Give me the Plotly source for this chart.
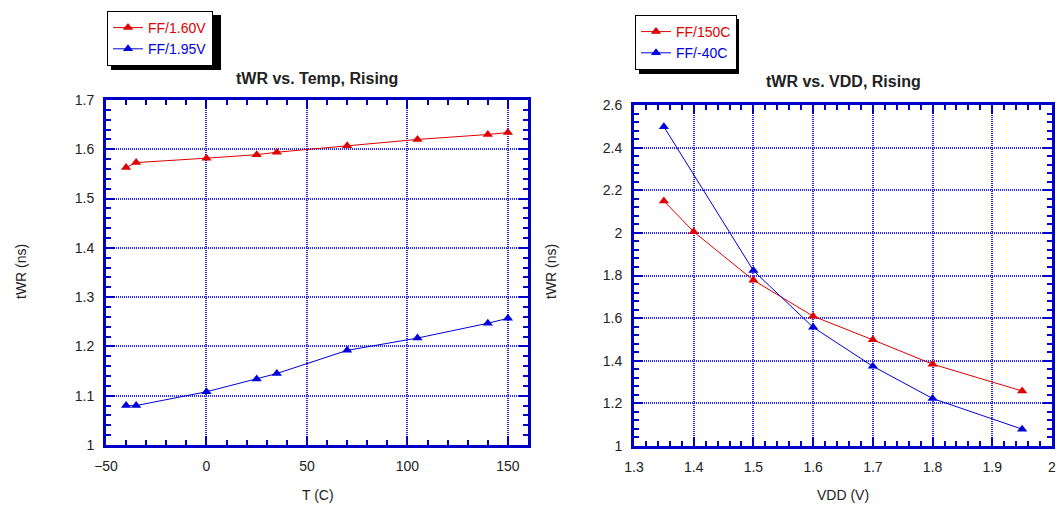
import plotly.graph_objects as go

# ---- data: left chart (tWR vs temperature) ----
temp_c = [-40, -35, 0, 25, 35, 70, 105, 140, 150]
twr_160v = [1.563, 1.573, 1.582, 1.589, 1.594, 1.607, 1.620, 1.630, 1.634]
twr_195v = [1.080, 1.080, 1.108, 1.134, 1.145, 1.192, 1.217, 1.247, 1.257]

# ---- data: right chart (tWR vs VDD) ----
vdd_v = [1.35, 1.4, 1.5, 1.6, 1.7, 1.8, 1.95]
twr_150c = [2.150, 2.005, 1.778, 1.609, 1.498, 1.384, 1.258]
vdd_v_m40 = [1.35, 1.5, 1.6, 1.7, 1.8, 1.95]
twr_m40c = [2.498, 1.823, 1.557, 1.374, 1.223, 1.079]

RED = "#e00000"
BLUE = "#0000dd"
AXIS = "#0000c8"
GRID = "#2828e6"
FONT = "Liberation Sans, Arial, sans-serif"
W, H = 1060, 507

fig = go.Figure()

def add(x, y, name, color, xa, ya, legend):
    fig.add_trace(go.Scatter(
        x=x, y=y, mode="lines+markers",
        name=f"<span style='color:{color}'>{name}</span>",
        line=dict(color=color, width=1),
        marker=dict(symbol="triangle-up", size=9, color=color),
        xaxis=xa, yaxis=ya, legend=legend))

add(temp_c, twr_160v, "FF/1.60V", RED, "x", "y", "legend")
add(temp_c, twr_195v, "FF/1.95V", BLUE, "x", "y", "legend")
add(vdd_v, twr_150c, "FF/150C", RED, "x2", "y2", "legend2")
add(vdd_v_m40, twr_m40c, "FF/-40C", BLUE, "x2", "y2", "legend2")

def px_x(p):
    return p / W

def px_y(p):
    return 1 - p / H

def axis(rng, dtick, minor, dom, anchor):
    return dict(
        range=rng, dtick=dtick, tick0=rng[0], domain=dom, anchor=anchor,
        showline=True, linecolor=AXIS, linewidth=3, mirror="ticks",
        ticks="inside", ticklen=9, tickwidth=2, tickcolor=AXIS,
        minor=dict(dtick=minor, ticks="inside", ticklen=5, tickwidth=2,
                   tickcolor=AXIS, showgrid=False),
        showgrid=True, gridcolor=GRID, gridwidth=2, griddash="1px,1px",
        zeroline=False, automargin=False,
        tickfont=dict(family=FONT, size=14, color="#222"),
        ticklabelstandoff=6,
    )

fig.update_layout(
    width=W, height=H,
    margin=dict(l=0, r=0, t=0, b=0),
    paper_bgcolor="white", plot_bgcolor="white",
    font=dict(family=FONT, size=14, color="#222"),
    xaxis=axis([-50, 160], 50, 10, [px_x(106), px_x(528)], "y"),
    yaxis=axis([1, 1.7], 0.1, 0.02, [px_y(445), px_y(100)], "x"),
    xaxis2=axis([1.3, 2.0], 0.1, 0.02, [px_x(634), px_x(1052)], "y2"),
    yaxis2=axis([1, 2.6], 0.2, 0.04, [px_y(446), px_y(105)], "x2"),
    legend=dict(x=px_x(107), y=px_y(11), xanchor="left", yanchor="top",
                bgcolor="white", bordercolor="black", borderwidth=1,
                font=dict(family=FONT, size=14), tracegroupgap=0,
                itemwidth=30),
    legend2=dict(x=px_x(635), y=px_y(15), xanchor="left", yanchor="top",
                 bgcolor="white", bordercolor="black", borderwidth=1,
                 font=dict(family=FONT, size=14), tracegroupgap=0,
                 itemwidth=30),
    showlegend=True,
)

# legend drop shadows
for (x0, y0, x1, y1) in [(111, 15, 221, 70), (639, 19, 739, 74)]:
    fig.add_shape(type="rect", xref="paper", yref="paper",
                  x0=px_x(x0), x1=px_x(x1), y0=px_y(y1), y1=px_y(y0),
                  fillcolor="black", line=dict(width=0), layer="below")

# titles and axis labels
ann = [
    ("<b>tWR vs. Temp, Rising</b>", 317, 78, 0, 16),
    ("<b>tWR vs. VDD, Rising</b>", 843, 82, 0, 16),
    ("T (C)", 318, 495, 0, 14),
    ("VDD (V)", 843, 495, 0, 14),
    ("tWR (ns)", 21, 272, -90, 14),
    ("tWR (ns)", 551, 272, -90, 14),
]
for text, x, y, ang, size in ann:
    fig.add_annotation(text=text, x=px_x(x), y=px_y(y), xref="paper", yref="paper",
                       showarrow=False, textangle=ang, xanchor="center", yanchor="middle",
                       font=dict(family=FONT, size=size, color="#222"))

fig.write_html("out.html", post_script="document.body.style.margin='0';",
               config={"displayModeBar": False})
